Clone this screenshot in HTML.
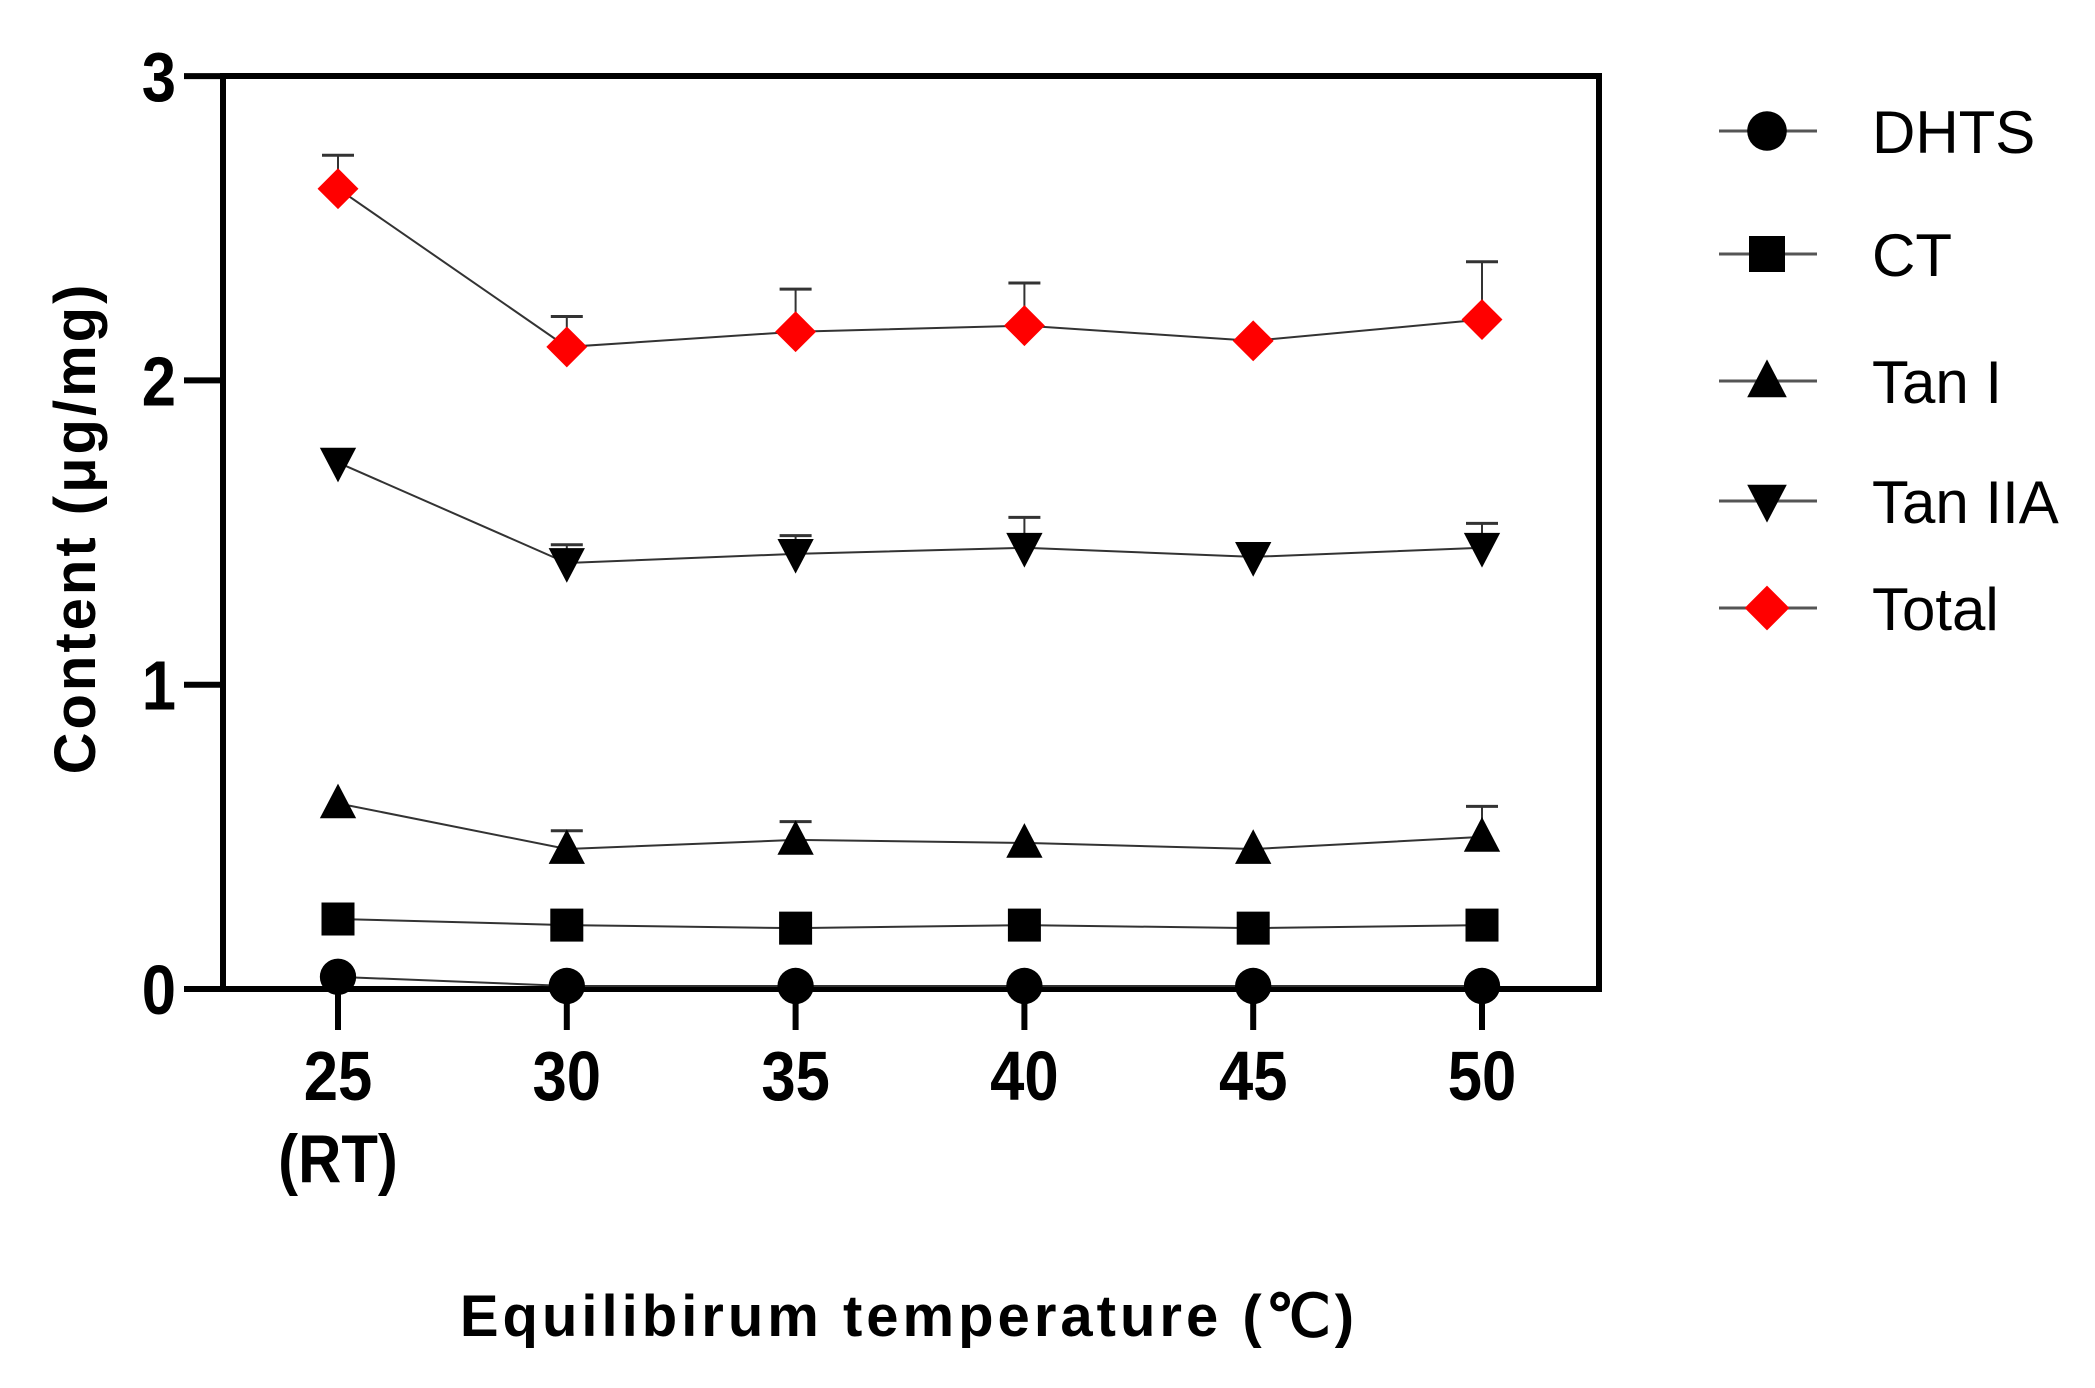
<!DOCTYPE html>
<html><head><meta charset="utf-8"><style>
html,body{margin:0;padding:0;background:#fff;}
svg{display:block;font-family:"Liberation Sans",Arial,sans-serif;}
</style></head><body>
<svg id="chart" width="2095" height="1388" viewBox="0 0 2095 1388">
<g id="plot"></g>
</svg>
<script>
const categories=["25","30","35","40","45","50"];
const dhts=[0.04,0.01,0.01,0.01,0.01,0.01];
const ct=[0.23,0.21,0.20,0.21,0.20,0.21];
const tan1=[0.61,0.46,0.49,0.48,0.46,0.50];
const tan1Err=[0,0.06,0.06,0,0,0.10];
const tan2a=[1.73,1.40,1.43,1.45,1.42,1.45];
const tan2aErr=[0,0.06,0.06,0.10,0,0.08];
const total=[2.63,2.11,2.16,2.18,2.13,2.20];
const totalErr=[0.11,0.10,0.14,0.14,0,0.19];
const yTicks=[0,1,2,3];

const NS="http://www.w3.org/2000/svg";
const svg=document.getElementById('plot');
function xS(i){return 338+i*228.8;}
function yS(v){return 989-v*304.3;}
function mk(t,a,p){const e=document.createElementNS(NS,t);for(const k in a)e.setAttribute(k,a[k]);(p||svg).appendChild(e);return e;}

const fr=mk('rect',{x:223,y:76,width:1376,height:913,fill:'none',stroke:'#000','stroke-width':6});



yTicks.forEach(v=>{
  const l=mk('line',{x1:184,x2:223,y1:yS(v),y2:yS(v),stroke:'#000','stroke-width':6});
  
  
  const t=mk('text',{x:176,y:yS(v)+25,'text-anchor':'end','font-size':70,'font-weight':'bold',transform:`translate(${176*0.12},0) scale(0.88,1)`});
  t.textContent=v;
  
  
});
categories.forEach((c,i)=>{
  const l=mk('line',{x1:xS(i),x2:xS(i),y1:989,y2:1030,stroke:'#000','stroke-width':6});
  
  
  const t=mk('text',{x:xS(i)/0.88,y:1100,'text-anchor':'middle','font-size':70,'font-weight':'bold',transform:'scale(0.88,1)'});
  t.textContent=c;
  
  
});
const rt=mk('text',{x:xS(0)/0.88,y:1182,'text-anchor':'middle','font-size':68,'font-weight':'bold',transform:'scale(0.88,1)'});
rt.textContent='(RT)';



function marker(type,cx,cy,s,fill,parent){
  let e;
  if(type==='circle')e=mk('circle',{cx,cy,r:s*0.55,fill},parent);
  else if(type==='square')e=mk('rect',{x:cx-s/2,y:cy-s/2,width:s,height:s,fill},parent);
  else if(type==='up')e=mk('polygon',{points:`${cx},${cy-s*0.6} ${cx-s*0.55},${cy+s*0.45} ${cx+s*0.55},${cy+s*0.45}`,fill},parent);
  else if(type==='down')e=mk('polygon',{points:`${cx},${cy+s*0.6} ${cx-s*0.55},${cy-s*0.45} ${cx+s*0.55},${cy-s*0.45}`,fill},parent);
  else e=mk('polygon',{points:`${cx},${cy-s*0.62} ${cx+s*0.62},${cy} ${cx},${cy+s*0.62} ${cx-s*0.62},${cy}`,fill},parent);
  return e;
}

const series=[
 {name:'DHTS',vals:dhts,err:null,type:'circle',fill:'#000'},
 {name:'CT',vals:ct,err:null,type:'square',fill:'#000'},
 {name:'Tan I',vals:tan1,err:tan1Err,type:'up',fill:'#000'},
 {name:'Tan IIA',vals:tan2a,err:tan2aErr,type:'down',fill:'#000'},
 {name:'Total',vals:total,err:totalErr,type:'diamond',fill:'#ff0000'}
];
const legY=[131,254,381,501,608];
series.forEach((s,si)=>{
  const g=mk('g',{});
  
  
  if(s.err){s.vals.forEach((v,i)=>{if(s.err[i]>0){
    const e1=mk('line',{x1:xS(i),x2:xS(i),y1:yS(v),y2:yS(v+s.err[i]),stroke:'#333','stroke-width':2},g);
    
    
    mk('line',{x1:xS(i)-16,x2:xS(i)+16,y1:yS(v+s.err[i]),y2:yS(v+s.err[i]),stroke:'#333','stroke-width':3},g);
  }});}
  const pl=mk('polyline',{points:s.vals.map((v,i)=>xS(i)+','+yS(v)).join(' '),fill:'none',stroke:'#333','stroke-width':2},g);
  
  
  s.vals.forEach((v,i)=>{
    const m=marker(s.type,xS(i),yS(v),33,s.fill,g);
    
    
  });
  const lg=mk('g',{});
  
  
  mk('line',{x1:1719,x2:1817,y1:legY[si],y2:legY[si],stroke:'#555','stroke-width':3},lg);
  marker(s.type,1767,legY[si],36,s.fill,lg);
  const t=mk('text',{x:1872,y:legY[si]+22,'font-size':60},lg);
  t.textContent=s.name;
});

const yt=mk('text',{x:0,y:0,'font-size':58,'font-weight':'bold','text-anchor':'middle','letter-spacing':'3',transform:'translate(95,528) rotate(-90)'});
yt.textContent='Content (μg/mg)';


const xt=mk('text',{x:909,y:1336,'font-size':58,'font-weight':'bold','text-anchor':'middle','letter-spacing':'4'});
xt.textContent='Equilibirum temperature (℃)';


</script>
</body></html>
